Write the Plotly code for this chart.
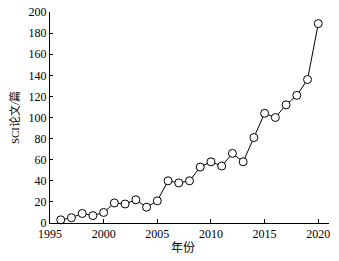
import plotly.graph_objects as go

years = list(range(1996, 2021))
papers = [3, 5, 9, 7, 10, 19, 18, 22, 15, 21, 40, 38, 40, 53, 58, 54, 66, 58, 81,
          104, 100, 112, 121, 136, 189]

x_ticks = [1995, 2000, 2005, 2010, 2015, 2020, 2021]
x_ticktext = ["1995", "2000", "2005", "2010", "2015", "2020", ""]
y_ticks = [0, 20, 40, 60, 80, 100, 120, 140, 160, 180, 200]

fig = go.Figure()
fig.add_trace(go.Scatter(
    x=years, y=papers, mode="lines+markers",
    line=dict(color="black", width=1),
    marker=dict(symbol="circle", size=8, color="white",
                line=dict(color="black", width=1)),
    cliponaxis=False,
))

font_family = "Liberation Serif, Noto Sans CJK SC, serif"
fig.update_layout(
    width=339, height=261,
    margin=dict(l=50, r=10, t=12, b=38),
    paper_bgcolor="white", plot_bgcolor="white",
    showlegend=False,
    font=dict(family=font_family, size=11, color="black"),
)
fig.update_xaxes(
    range=[1995, 2021], tickmode="array", tickvals=x_ticks, ticktext=x_ticktext,
    ticks="inside", ticklen=4, tickcolor="black", tickwidth=1,
    showline=True, linecolor="black", linewidth=1, showgrid=False, zeroline=False,
    tickfont=dict(size=12), automargin=False,
)
fig.add_annotation(
    text="年份", xref="paper", yref="paper", x=0.475, y=0,
    xanchor="center", yanchor="middle", yshift=-25, showarrow=False,
    font=dict(size=12, family=font_family),
)
fig.update_yaxes(
    range=[0, 200], tickmode="array", tickvals=y_ticks,
    ticks="inside", ticklen=3, tickcolor="black", tickwidth=1,
    showline=True, linecolor="black", linewidth=1, showgrid=False, zeroline=False,
    title=dict(text="SCI论文/篇", standoff=6, font=dict(size=11)),
    tickfont=dict(size=12), automargin=False,
)

fig.write_html("out.html", post_script="document.body.style.margin='0';",
               config={"displayModeBar": False})
